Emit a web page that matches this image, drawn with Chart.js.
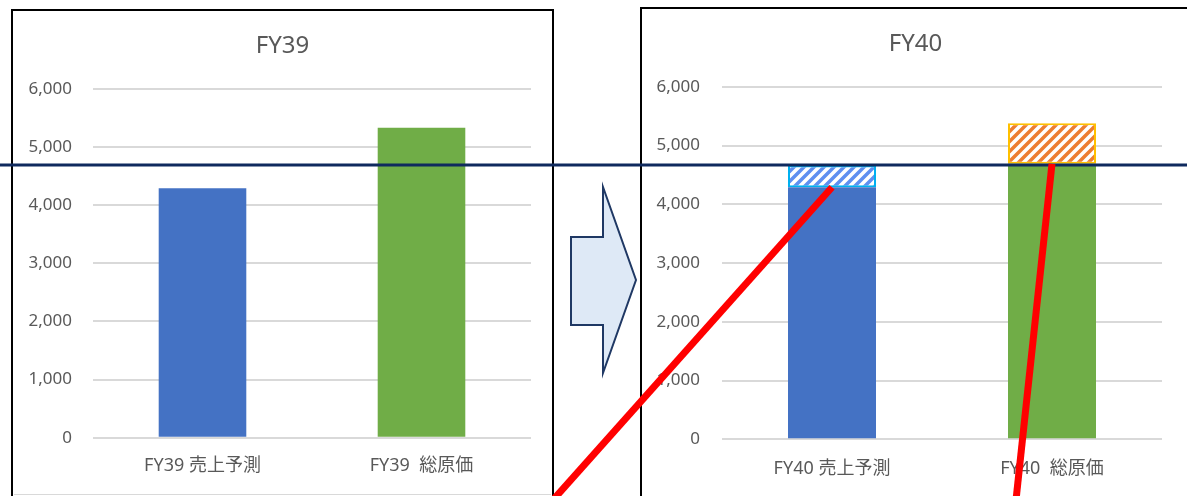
<!DOCTYPE html>
<html lang="ja">
<head>
<meta charset="utf-8">
<title>FY39 / FY40</title>
<script src="https://cdn.jsdelivr.net/npm/chart.js@4.4.1/dist/chart.umd.min.js"></script>
<style>
  html, body { margin: 0; padding: 0; background: #fff; }
  body { position: relative; width: 1187px; height: 496px; overflow: hidden; }
  .frame { position: absolute; border: 2px solid #000; background: #fff; }
  #frame39 { left: 11px; top: 9px; width: 539px; height: 487px; }
  #frame40 { left: 640px; top: 7px; width: 547px; height: 490px; }
  .frame canvas { display: block; }
  #overlay { position: absolute; left: 0; top: 0; pointer-events: none; }
</style>
</head>
<body>
<div class="frame" id="frame39"><canvas id="chart39" width="539" height="484"></canvas></div>
<div class="frame" id="frame40"><canvas id="chart40" width="547" height="488"></canvas></div>
<canvas id="overlay" width="1187" height="496"></canvas>

<script>
// データ
const categories39 = ['FY39 売上予測', 'FY39  総原価'];
const values39 = [4290, 5330];

const categories40 = ['FY40 売上予測', 'FY40  総原価'];
const base40 = [4290, 4690];
const increase40 = [370, 690];

const yMin = 0;
const yMax = 6000;
const yStep = 1000;
const referenceLine = 4670;

const FONT = '"Noto Sans", "Noto Sans CJK JP", sans-serif';
const TEXT = '#595959';

// 斜線パターン
function hatch(color) {
    const size = 10;
    const c = document.createElement('canvas');
    c.width = size;
    c.height = size;
    const g = c.getContext('2d');
    g.fillStyle = '#fff';
    g.fillRect(0, 0, size, size);
    g.strokeStyle = color;
    g.lineWidth = 3.5;
    g.beginPath();
    g.moveTo(0, size); g.lineTo(size, 0);
    g.moveTo(-size / 2, size / 2); g.lineTo(size / 2, -size / 2);
    g.moveTo(size / 2, size * 1.5); g.lineTo(size * 1.5, size / 2);
    g.stroke();
    return g.createPattern(c, 'repeat');
}

function makeChart(id, title, labels, datasets, geom) {
    return new Chart(document.getElementById(id), {
        type: 'bar',
        data: { labels: labels, datasets: datasets },
        options: {
            responsive: false,
            animation: false,
            events: [],
            layout: { padding: 0 },
            plugins: {
                legend: { display: false },
                tooltip: { enabled: false },
                title: {
                    display: true,
                    text: title,
                    color: TEXT,
                    font: { family: FONT, size: 24, weight: 'normal' },
                    padding: { top: 21, bottom: 28 }
                }
            },
            scales: {
                x: {
                    stacked: true,
                    grid: { display: false },
                    border: { display: false },
                    ticks: {
                        color: TEXT,
                        font: { family: FONT, size: 18 },
                        padding: geom.xPad,
                        maxRotation: 0,
                        autoSkip: false
                    },
                    afterFit: s => { s.height = geom.xHeight; }
                },
                y: {
                    stacked: true,
                    min: yMin,
                    max: yMax,
                    grid: { color: '#d9d9d9', lineWidth: 2, drawTicks: false },
                    border: { display: false },
                    ticks: {
                        stepSize: yStep,
                        color: TEXT,
                        font: { family: FONT, size: 17 },
                        padding: geom.yPad,
                        callback: v => v.toLocaleString('en-US')
                    },
                    afterFit: s => { s.width = 80; }
                },
                // 右余白用の空の軸
                spacer: {
                    position: 'right',
                    grid: { display: false },
                    border: { display: false },
                    ticks: { display: false },
                    afterFit: s => { s.width = geom.right; }
                }
            }
        }
    });
}

const chart39 = makeChart('chart39', 'FY39', categories39, [{
    data: values39,
    backgroundColor: ['#4472c4', '#70ad47'],
    barPercentage: 0.4,
    categoryPercentage: 1.0
}], { right: 21, xHeight: 57.3, xPad: 9, yPad: 21 });

const chart40 = makeChart('chart40', 'FY40', categories40, [{
    data: base40,
    backgroundColor: ['#4472c4', '#70ad47'],
    barPercentage: 0.4,
    categoryPercentage: 1.0
}, {
    data: increase40,
    backgroundColor: [hatch('#5f8ff0'), hatch('#ed7d31')],
    borderColor: ['#00b0f0', '#ffc000'],
    borderWidth: 2,
    borderSkipped: false,
    barPercentage: 0.4,
    categoryPercentage: 1.0
}], { right: 27, xHeight: 57.7, xPad: 11, yPad: 22 });

// 矢印・基準線・赤線
function drawOverlay() {
    const ctx = document.getElementById('overlay').getContext('2d');

    // 左枠の下端（薄いグレー）
    ctx.fillStyle = '#d9d9d9';
    ctx.fillRect(14, 494, 537, 1);

    ctx.beginPath();
    ctx.moveTo(571, 237);
    ctx.lineTo(603, 237);
    ctx.lineTo(603, 187);
    ctx.lineTo(636, 280);
    ctx.lineTo(603, 373);
    ctx.lineTo(603, 325);
    ctx.lineTo(571, 325);
    ctx.closePath();
    ctx.fillStyle = '#dee9f6';
    ctx.fill();
    ctx.strokeStyle = '#1f3864';
    ctx.lineWidth = 2;
    ctx.stroke();

    const box = document.getElementById('chart40').getBoundingClientRect();
    const yRef = box.top + chart40.scales.y.getPixelForValue(referenceLine);
    ctx.beginPath();
    ctx.moveTo(0, yRef);
    ctx.lineTo(1187, yRef);
    ctx.strokeStyle = '#0f2a5e';
    ctx.lineWidth = 3;
    ctx.stroke();

    const bars = chart40.getDatasetMeta(0).data;
    const ends = [[553, 500], [1016, 500]];
    ctx.strokeStyle = '#ff0000';
    ctx.lineWidth = 7;
    ctx.lineCap = 'butt';
    bars.forEach((bar, i) => {
        ctx.beginPath();
        ctx.moveTo(box.left + bar.x, box.top + bar.y);
        ctx.lineTo(ends[i][0], ends[i][1]);
        ctx.stroke();
    });
}

drawOverlay();
</script>
</body>
</html>
